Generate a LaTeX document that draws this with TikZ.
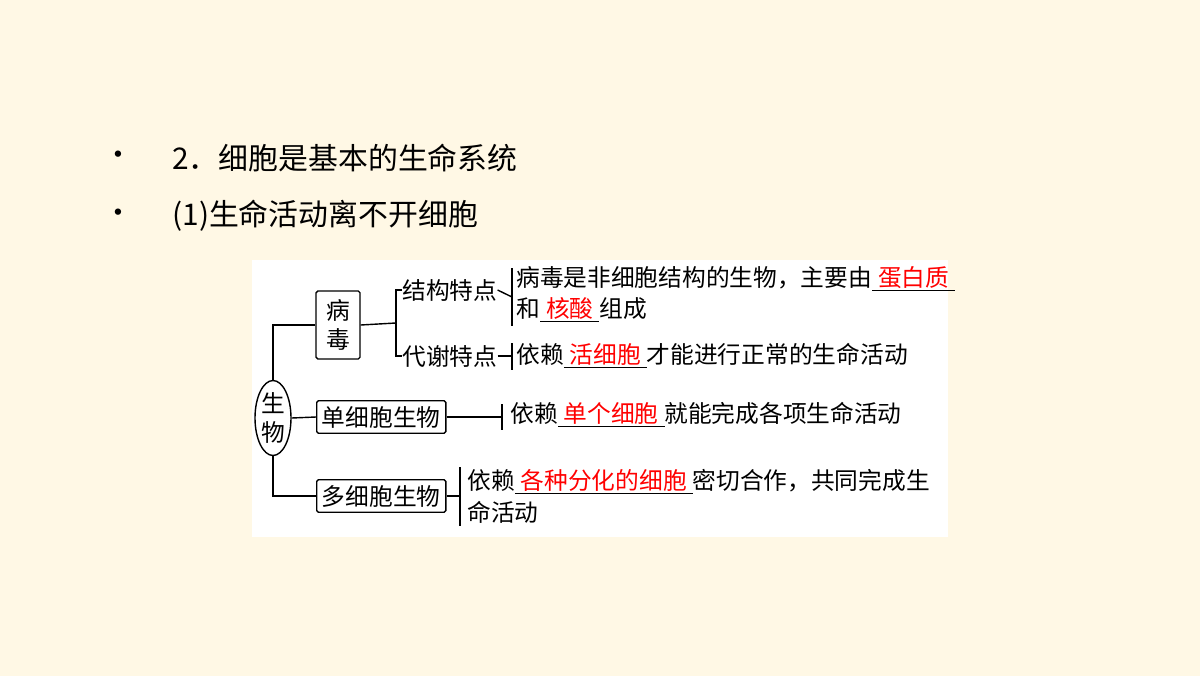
\documentclass[tikz,border=0pt]{standalone}
\usepackage{fontspec}
\setmainfont{Noto Sans CJK SC}
\usetikzlibrary{shapes.geometric,positioning}
\definecolor{bgcream}{HTML}{FFF8E5}
\newcommand{\fillin}[1]{\underline{\hspace{0.25em}\textcolor{red}{#1}\hspace{0.25em}}}
\begin{document}
\begin{tikzpicture}[x=0.02cm,y=-0.02cm,
  cbox/.style={draw,thick,rounded corners=1pt,inner sep=3pt,font=\fontsize{13.5pt}{16pt}\selectfont},
  ctext/.style={inner sep=0pt,anchor=west,font=\fontsize{13.5pt}{30pt}\selectfont},
  title/.style={anchor=west,inner sep=0pt,font=\fontsize{17pt}{20pt}\selectfont},
  link/.style={thick}]
\fill[bgcream] (0,0) rectangle (1200,676);
\useasboundingbox (0,0) rectangle (1200,676);
\fill[white] (252,260) rectangle (948,537);
% headings
\node[title] (b1) at (103,158) {•};
\node[title] (b2) at (103,216) {•};
\node[title] (t1) at (172,158) {2．细胞是基本的生命系统};
\node[title] (t2) at (172,216) {(1)生命活动离不开细胞};
% tree
\node[draw,thick,ellipse,minimum width=36*0.02cm,minimum height=75*0.02cm,inner sep=0pt,align=center,
  font=\fontsize{13.5pt}{16pt}\selectfont] (life) at (273,418) {生\\物};
\node[cbox,align=center,minimum width=44*0.02cm,minimum height=68*0.02cm] (virus) at (338,325) {病\\毒};
\node[cbox,anchor=west] (single) at (316,417) {单细胞生物};
\node[cbox,anchor=west] (multi) at (316,496) {多细胞生物};
\draw[link] (life.north) |- (virus.west);
\draw[link] (life.east) -- (single.west);
\draw[link] (life.south) |- (multi.west);
% virus branch
\coordinate (vfork) at (396,323);
\node[ctext] (struct) at (402,290) {结构特点};
\node[ctext] (meta) at (402,356) {代谢特点};
\draw[link] (virus.east) -- (vfork);
\draw[link] (struct.west) -| (vfork) |- (meta.west);
\coordinate (sbar) at (512,297);
\coordinate (mbar) at (512,356);
\draw[link] (struct.east) -- (sbar);
\draw[link] (512,268) -- (512,326);
\draw[link] (meta.east) -- (mbar);
\draw[link] (512,343) -- (512,370);
\node[ctext] (sdesc1) at (516,279) {病毒是非细胞结构的生物，主要由\fillin{蛋白质}};
\node[ctext] (sdesc2) at (516,310) {和\fillin{核酸}组成};
\node[ctext] (mdesc) at (516,356) {依赖\fillin{活细胞}才能进行正常的生命活动};
% single-celled
\coordinate (sgbar) at (502,417);
\draw[link] (single.east) -- (sgbar);
\draw[link] (502,404) -- (502,430);
\node[ctext] (sgdesc) at (510,415) {依赖\fillin{单个细胞}就能完成各项生命活动};
% multicellular
\coordinate (mcbar) at (460,496);
\draw[link] (multi.east) -- (mcbar);
\draw[link] (460,467) -- (460,526);
\node[ctext] (mcdesc1) at (467,482) {依赖\fillin{各种分化的细胞}密切合作，共同完成生};
\node[ctext] (mcdesc2) at (467,512) {命活动};
\end{tikzpicture}
\end{document}
